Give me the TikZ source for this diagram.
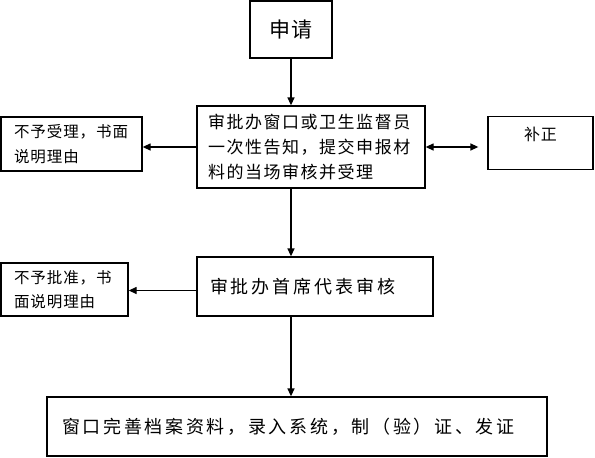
\documentclass[tikz,border=0pt]{standalone}
\usepackage{fontspec}
\newfontfamily\cjk{Noto Sans CJK SC}
\usetikzlibrary{arrows.meta,positioning}

\newcommand\zi[3]{\cjk\fontsize{#1}{#2}\selectfont\addfontfeature{LetterSpace=#3}}

\tikzset{
  kuang/.style={draw, line width=1.3pt, inner sep=0pt},
  jt/.style={line width=1.3pt, -{Triangle[length=8pt,width=7pt]}},
  jtt/.style={line width=1.3pt, {Triangle[length=8pt,width=7pt]}-{Triangle[length=8pt,width=7pt]}},
}

\begin{document}
\begin{tikzpicture}[x=1pt,y=-1pt]
    \useasboundingbox (0,0) rectangle (595,458);

    % Shenqing
    \node[kuang, minimum width=82pt, minimum height=57pt, font={\zi{21}{24}{2}}] (sq) at (291,29.5) {申请};

    % window check
    \node[kuang, minimum height=82pt, align=left, text width=206pt, inner xsep=11pt,
          font={\zi{17}{25}{9}}] (ct) at (311,147)
          {审批办窗口或卫生监督员\\一次性告知，提交申报材\\料的当场审核并受理};

    % reject left
    \node[kuang, minimum height=54pt, align=left, text width=115pt, inner xsep=13pt,
          font={\zi{15.5}{25.5}{6}}] (bl1) at (71.5,144) {不予受理，书面\\说明理由};

    % correction
    \node[kuang, minimum width=105pt, text height=24pt, text depth=29pt,
          font={\zi{16}{24}{4}}] (bz) at (540.5,143) {补正};

    % chief review
    \node[kuang, minimum height=59pt, align=left, text width=210pt, inner xsep=13pt,
          font={\zi{18}{24}{16}}] (sh) at (315,286.5) {审批办首席代表审核};

    % not approved
    \node[kuang, minimum height=53pt, align=left, text width=101pt, inner xsep=13pt,
          font={\zi{15.5}{24}{6}}] (bl2) at (64.5,289.5) {不予批准，书\\面说明理由};

    % final step
    \node[kuang, minimum height=59pt, align=left, text width=470pt, inner xsep=15pt,
          font={\zi{18}{24}{15}}] (fz) at (297,426.5)
          {窗口完善档案资料，录入系统，制（验）证、发证};

    % arrows
    \draw[jt] (sq.south) -- (sq.south |- ct.north);
    \draw[jt] (ct.west) -- (ct.west -| bl1.east);
    \draw[jtt, shorten >=9pt] (ct.east) -- (ct.east -| bz.west);
    \draw[jt] (sq.south |- ct.south) -- (sq.south |- sh.north);
    \draw[jt] ([yshift=-4pt]sh.west) -- ([yshift=-4pt]sh.west -| bl2.east);
    \draw[jt] (sq.south |- sh.south) -- (sq.south |- fz.north);
\end{tikzpicture}
\end{document}
